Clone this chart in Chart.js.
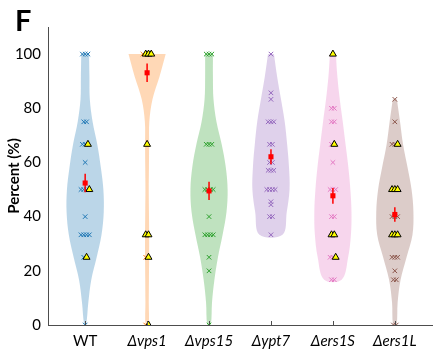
<!DOCTYPE html>
<html>
<head>
<meta charset="utf-8">
<script src="https://cdn.jsdelivr.net/npm/chart.js@4"></script>
<style>
  html, body { margin: 0; padding: 0; background: #fff; }
  #wrap { width: 437px; height: 360px; position: relative; }
</style>
</head>
<body>
<div id="wrap"><canvas id="c"></canvas></div>
<script>
// Strains along the x axis
const categories = ['WT', 'Δvps1', 'Δvps15', 'Δypt7', 'Δers1S', 'Δers1L'];
const yTicks = [0, 20, 40, 60, 80, 100];

// Per-cell percentages (crosses)
const wtCross    = [100, 100, 100, 75, 75, 66.7, 66.7, 60, 50, 50, 50, 40, 33.3, 33.3, 33.3, 33.3, 25, 0];
const vps1Cross  = [100, 25, 0];
const vps15Cross = [100, 100, 100, 66.7, 66.7, 66.7, 50, 50, 50, 50, 40, 33.3, 33.3, 33.3, 33.3, 25, 20, 0];
const ypt7Cross  = [100, 85.7, 83.3, 75, 75, 75, 66.7, 66.7, 60, 60, 57.1, 57.1, 57.1, 50, 50, 50, 50, 45.5, 44.4, 40, 40, 33.3];
const ers1SCross = [80, 80, 75, 75, 66.7, 60, 50, 50, 50, 40, 40, 25, 25, 16.7, 16.7];
const ers1LCross = [83.3, 75, 66.7, 66.7, 40, 40, 40, 25, 25, 25, 20, 16.7, 16.7, 0, 0];

// Highlighted experiments (yellow triangles)
const wtTri    = [66.7, 50, 25];
const vps1Tri  = [100, 100, 100, 66.7, 33.3, 33.3, 25, 0];
const vps15Tri = [];
const ypt7Tri  = [];
const ers1STri = [100, 66.7, 33.3, 33.3, 25];
const ers1LTri = [66.7, 50, 50, 50, 33.3, 33.3, 33.3];

// Mean and standard error per strain
const means = [52.4, 93.1, 49.5, 62.1, 47.7, 40.8];
const sems  = [3.4, 3.4, 3.4, 2.8, 2.9, 2.7];

// Relative density profile of each violin (1 = widest), sampled at these levels
const densityLevels = [0, 8.3, 16.7, 25, 33.3, 41.7, 50, 58.3, 66.7, 75, 83.3, 91.7, 100];
const wtDensity    = [0.05, 0.17, 0.33, 0.62, 0.88, 1.0, 0.98, 0.84, 0.65, 0.40, 0.25, 0.23, 0.21];
const vps1Density  = [0.08, 0.09, 0.10, 0.11, 0.11, 0.10, 0.09, 0.10, 0.11, 0.12, 0.29, 0.67, 1.0];
const vps15Density = [0.09, 0.16, 0.29, 0.48, 0.73, 0.94, 1.0, 0.90, 0.68, 0.40, 0.24, 0.21, 0.21];
const ypt7Density  = [null, null, null, null, 0.62, 0.85, 1.0, 0.97, 0.87, 0.74, 0.54, 0.33, 0.16];
const ers1SDensity = [null, null, 0.47, 0.82, 0.97, 1.0, 0.94, 0.83, 0.68, 0.53, 0.37, 0.24, 0.16];
const ers1LDensity = [0.09, 0.15, 0.31, 0.63, 0.95, 1.0, 0.90, 0.68, 0.44, 0.28, 0.11, null, null];

const crossSets   = [wtCross, vps1Cross, vps15Cross, ypt7Cross, ers1SCross, ers1LCross];
const triSets     = [wtTri, vps1Tri, vps15Tri, ypt7Tri, ers1STri, ers1LTri];
const densitySets = [wtDensity, vps1Density, vps15Density, ypt7Density, ers1SDensity, ers1LDensity];

const colors = [[31, 119, 180], [255, 127, 14], [44, 160, 44], [148, 103, 189], [227, 119, 194], [140, 86, 75]];
const rgb  = (c) => `rgb(${c[0]},${c[1]},${c[2]})`;
const rgba = (c, a) => `rgba(${c[0]},${c[1]},${c[2]},${a})`;

const HALF_WIDTH = 0.3;   // widest half-width of a violin, in x units
const JIT = 0.045;        // side-by-side spacing of equal values

const FONT = 'Lato, "Open Sans", "Liberation Sans", sans-serif';

// Violin outline: down the right edge, back up the left edge
function violinPath(center, dens) {
  const right = [], left = [];
  for (let i = densityLevels.length - 1; i >= 0; i--) {
    if (dens[i] == null) continue;
    right.push({ x: center + dens[i] * HALF_WIDTH, y: densityLevels[i] });
  }
  for (let i = 0; i < densityLevels.length; i++) {
    if (dens[i] == null) continue;
    left.push({ x: center - dens[i] * HALF_WIDTH, y: densityLevels[i] });
  }
  return right.concat(left);
}

// Spread equal values side by side around the strain position
function spread(center, crosses, tris) {
  const groups = new Map();
  crosses.map(v => ({ v, kind: 'x' })).concat(tris.map(v => ({ v, kind: 't' })))
    .forEach(p => { if (!groups.has(p.v)) groups.set(p.v, []); groups.get(p.v).push(p); });
  const out = { x: [], t: [] };
  groups.forEach(g => g.forEach((p, k) => {
    const pt = { x: center + (k - (g.length - 1) / 2) * JIT, y: p.v };
    (p.kind === 'x' ? out.x : out.t).push(pt);
  }));
  return out;
}

const datasets = [];
categories.forEach((name, i) => {
  const c = i + 1;
  const col = colors[i];
  datasets.push({
    label: name + ' violin',
    data: violinPath(c, densitySets[i]),
    showLine: true, fill: 'shape', tension: 0.35,
    backgroundColor: rgba(col, 0.3), borderWidth: 0, borderColor: 'rgba(0,0,0,0)',
    pointRadius: 0, order: 5
  });
  const pts = spread(c, crossSets[i], triSets[i]);
  datasets.push({
    label: name + ' cells',
    data: pts.x,
    pointStyle: 'crossRot', pointRadius: 3.2, borderWidth: 1,
    borderColor: rgb(col), backgroundColor: rgb(col), order: 4
  });
  if (pts.t.length) {
    datasets.push({
      label: name + ' highlighted',
      data: pts.t,
      pointStyle: 'triangle', pointRadius: 4.0, borderWidth: 1,
      borderColor: '#000', backgroundColor: '#ffff00', order: 3
    });
  }
  datasets.push({
    label: name + ' sem',
    data: [{ x: c, y: means[i] - sems[i] }, { x: c, y: means[i] + sems[i] }],
    showLine: true, borderColor: '#ff0000', borderWidth: 1.5, pointRadius: 0, order: 2
  });
  datasets.push({
    label: name + ' mean',
    data: [{ x: c, y: means[i] }],
    pointStyle: 'rect', pointRadius: 3.6, borderWidth: 0,
    backgroundColor: '#ff0000', borderColor: '#ff0000', order: 1
  });
});

// Panel letter and inward x tick marks
const decorations = {
  id: 'decorations',
  afterDraw(chart) {
    const { ctx, chartArea, scales } = chart;
    ctx.save();
    ctx.strokeStyle = '#4d4d4d';
    ctx.lineWidth = 1;
    categories.forEach((_, i) => {
      const px = Math.round(scales.x.getPixelForValue(i + 1)) + 0.5;
      ctx.beginPath();
      ctx.moveTo(px, chartArea.bottom);
      ctx.lineTo(px, chartArea.bottom - 4);
      ctx.stroke();
    });
    ctx.fillStyle = '#000';
    ctx.font = 'bold 29px ' + FONT;
    ctx.textBaseline = 'alphabetic';
    ctx.fillText('F', 15, 31);
    ctx.restore();
  }
};

new Chart(document.getElementById('c'), {
  type: 'scatter',
  data: { datasets },
  options: {
    responsive: true,
    maintainAspectRatio: false,
    animation: false,
    devicePixelRatio: 1,
    layout: { padding: { top: 27, left: 0, right: 0, bottom: 0 } },
    plugins: { legend: { display: false }, tooltip: { enabled: false } },
    scales: {
      x: {
        type: 'linear', min: 0.4, max: 6.6,
        afterBuildTicks: (s) => { s.ticks = categories.map((_, i) => ({ value: i + 1 })); },
        afterFit: (s) => { s.height = 35; },
        grid: { display: true, drawOnChartArea: false, drawTicks: false },
        border: { display: true, color: '#4d4d4d', width: 1 },
        ticks: {
          padding: 7,
          color: '#000',
          autoSkip: false, maxRotation: 0,
          callback: (v) => categories[v - 1],
          font: (ctx) => ({ family: FONT, size: 15, style: ctx.index === 0 ? 'normal' : 'italic' })
        }
      },
      y: {
        min: 0, max: 110,
        afterBuildTicks: (s) => { s.ticks = yTicks.map(v => ({ value: v })); },
        afterFit: (s) => { s.width = 48; },
        grid: { display: true, drawOnChartArea: false, drawTicks: false },
        border: { display: true, color: '#4d4d4d', width: 1 },
        ticks: { padding: 7, color: '#000', font: { family: FONT, size: 15 } },
        title: {
          display: true, text: 'Percent (%)', color: '#000',
          padding: { top: 5, bottom: 0 },
          font: { family: FONT, size: 15, weight: 'bold' }
        }
      }
    }
  },
  plugins: [decorations]
});
</script>
</body>
</html>
